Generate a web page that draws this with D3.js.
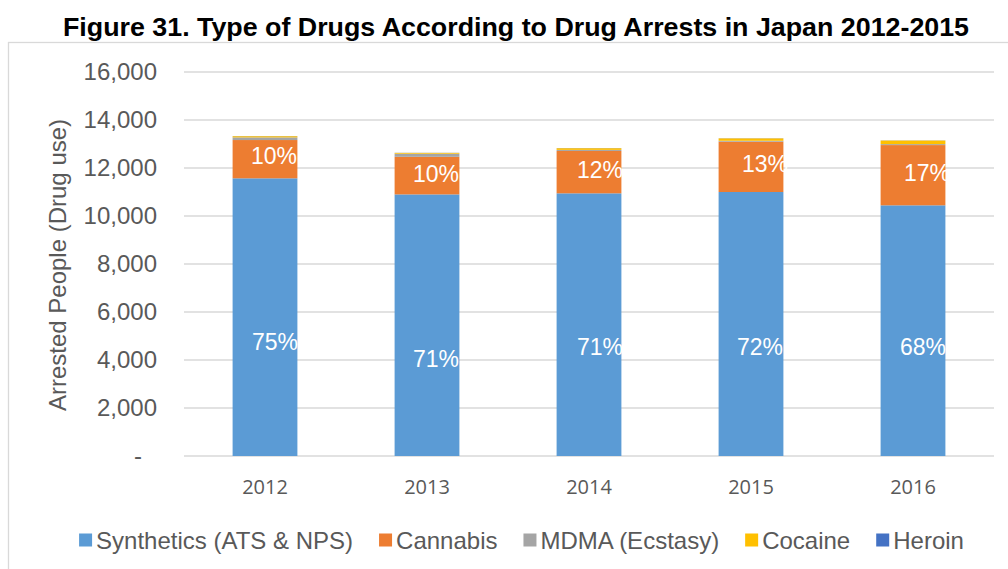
<!DOCTYPE html>
<html>
<head>
<meta charset="utf-8">
<script src="https://cdn.jsdelivr.net/npm/d3@7"></script>
<style>
  html, body { margin: 0; padding: 0; background: #fff; }
  svg { display: block; }
</style>
</head>
<body>
<svg id="chart" width="1008" height="569"></svg>
<script>
// Drug arrests in Japan by drug type (people arrested for drug use)
const years = ["2012", "2013", "2014", "2015", "2016"];
const seriesNames = ["Synthetics (ATS & NPS)", "Cannabis", "MDMA (Ecstasy)", "Cocaine", "Heroin"];
const synthetics = [11570, 10900, 10945, 11000, 10445];
const cannabis   = [1595, 1565, 1765, 2095, 2510];
const mdma       = [110, 130, 45, 40, 40];
const cocaine    = [50, 35, 70, 100, 150];
const heroin     = [5, 5, 5, 5, 5];
const syntheticsShare = ["75%", "71%", "71%", "72%", "68%"];
const cannabisShare   = ["10%", "10%", "12%", "13%", "17%"];
const yTicks = [0, 2000, 4000, 6000, 8000, 10000, 12000, 14000, 16000];

const colors = ["#5B9BD5", "#ED7D31", "#A5A5A5", "#FFC000", "#4472C4"];
const seriesValues = [synthetics, cannabis, mdma, cocaine, heroin];

// hand-placed data label offsets (dx from bar centre, dy of baseline from segment middle)
const syntheticsLabelNudge = [[10, 33], [9, 42], [11, 30], [9, 31], [10, 24]];
const cannabisLabelNudge   = [[9, 5], [9, 6], [11, 6], [14, 5], [14, 5.5]];

const svg = d3.select("#chart");
const FONT = "'Liberation Sans', Arial, sans-serif";
const GREY_TEXT = "#595959";
const GRID = "#D9D9D9";

// chart frame
svg.append("rect")
  .attr("x", 8.5).attr("y", 42.5)
  .attr("width", 1030).attr("height", 560)
  .attr("fill", "none").attr("stroke", GRID).attr("stroke-width", 1.3);

// title
svg.append("text")
  .attr("x", 516).attr("y", 36)
  .attr("text-anchor", "middle")
  .attr("font-family", FONT).attr("font-weight", "bold").attr("font-size", 26)
  .attr("fill", "#000")
  .attr("textLength", 906).attr("lengthAdjust", "spacingAndGlyphs")
  .text("Figure 31. Type of Drugs According to Drug Arrests in Japan 2012-2015");

const x = d3.scaleBand().domain(years).range([184, 994]).paddingInner(0.6).paddingOuter(0.3);
const y = d3.scaleLinear().domain([0, 16000]).range([456, 72]);

// gridlines
svg.append("g").selectAll("line").data(yTicks).join("line")
  .attr("x1", 184).attr("x2", 994)
  .attr("y1", d => y(d)).attr("y2", d => y(d))
  .attr("stroke", GRID).attr("stroke-width", 1.3);

// y axis labels
const yAxis = d3.axisLeft(y).tickValues(yTicks).tickSize(0).tickPadding(0)
  .tickFormat(d => d === 0 ? "-" : d3.format(",")(d));
const yg = svg.append("g").attr("transform", "translate(157,0)").call(yAxis);
yg.select(".domain").remove();
yg.selectAll("text")
  .attr("font-family", FONT).attr("font-size", 24).attr("fill", GREY_TEXT)
  .attr("dx", d => d === 0 ? -15 : 0);

// x axis labels
const xAxis = d3.axisBottom(x).tickSize(0).tickPadding(24);
const xg = svg.append("g").attr("transform", "translate(0,456)").call(xAxis);
xg.select(".domain").remove();
xg.selectAll("text")
  .attr("font-family", "'Open Sans', sans-serif").attr("font-size", 20).attr("fill", GREY_TEXT);

// y axis title
svg.append("text")
  .attr("transform", "translate(66,265) rotate(-90)")
  .attr("text-anchor", "middle")
  .attr("font-family", FONT).attr("font-size", 24).attr("fill", GREY_TEXT)
  .text("Arrested People (Drug use)");

// stacked bars
const rows = years.map((yr, i) => {
  const r = { year: yr };
  seriesNames.forEach((s, k) => { r[s] = seriesValues[k][i]; });
  return r;
});
const stacked = d3.stack().keys(seriesNames)(rows);

const layers = svg.append("g").selectAll("g").data(stacked).join("g")
  .attr("fill", (d, k) => colors[k]);
layers.selectAll("rect").data(d => d).join("rect")
  .attr("x", d => x(d.data.year))
  .attr("width", x.bandwidth())
  .attr("y", d => y(d[1]))
  .attr("height", d => y(d[0]) - y(d[1]));

// percentage labels
function drawLabels(layer, texts, nudges) {
  svg.append("g").selectAll("text").data(layer).join("text")
    .attr("x", (d, i) => x(d.data.year) + x.bandwidth() / 2 + nudges[i][0])
    .attr("y", (d, i) => (y(d[0]) + y(d[1])) / 2 + nudges[i][1])
    .attr("text-anchor", "middle")
    .attr("font-family", FONT).attr("font-size", 23).attr("fill", "#fff")
    .text((d, i) => texts[i]);
}
drawLabels(stacked[0], syntheticsShare, syntheticsLabelNudge);
drawLabels(stacked[1], cannabisShare, cannabisLabelNudge);

// legend
const legend = svg.append("g");
let lx = 0;
const items = [];
seriesNames.forEach((name, k) => {
  const g = legend.append("g");
  g.append("rect").attr("x", 0).attr("y", -6.5).attr("width", 13).attr("height", 13).attr("fill", colors[k]);
  const t = g.append("text").attr("x", 17).attr("y", 8.5)
    .attr("font-family", FONT).attr("font-size", 24).attr("fill", GREY_TEXT).text(name);
  const w = 17 + t.node().getComputedTextLength();
  items.push({ g, x: lx });
  lx += w + 26;
});
const totalW = lx - 26;
const startX = 521.5 - totalW / 2;
items.forEach(it => it.g.attr("transform", `translate(${startX + it.x},540)`));
</script>
</body>
</html>
